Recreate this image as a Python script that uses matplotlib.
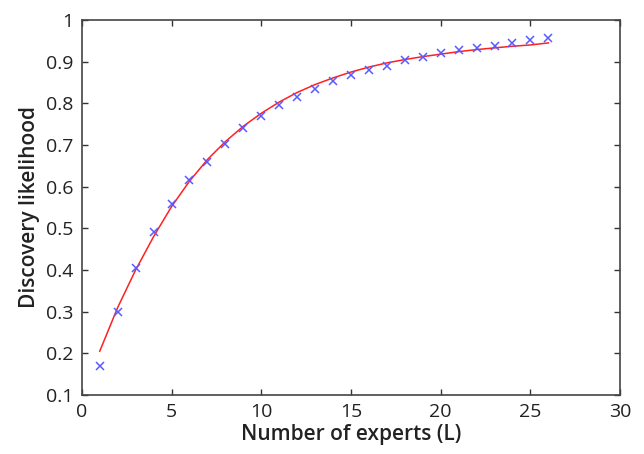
import matplotlib
matplotlib.use("Agg")
import matplotlib.pyplot as plt

# observed discovery likelihood per number of experts
experts = list(range(1, 27))
observed = [0.17, 0.30, 0.405, 0.49, 0.558, 0.615, 0.66, 0.703, 0.74, 0.77,
            0.795, 0.815, 0.835, 0.853, 0.868, 0.88, 0.89, 0.903, 0.912, 0.92,
            0.927, 0.933, 0.938, 0.944, 0.951, 0.957]

# fitted curve, read at the same x positions
fitted = [0.205, 0.31, 0.40, 0.48, 0.552, 0.613, 0.665, 0.708, 0.745, 0.776,
          0.803, 0.826, 0.845, 0.861, 0.875, 0.887, 0.897, 0.905, 0.912, 0.918,
          0.924, 0.929, 0.933, 0.937, 0.940, 0.945]

xticks = [0, 5, 10, 15, 20, 25, 30]
yticks = [0.1, 0.2, 0.3, 0.4, 0.5, 0.6, 0.7, 0.8, 0.9, 1]

plt.rcParams['font.family'] = ['Open Sans', 'DejaVu Sans']

fig = plt.figure(figsize=(6.44, 4.54), dpi=100)
ax = fig.add_axes([0.127, 0.130, 0.836, 0.826])

ax.plot(experts, fitted, color="#ff2020", linewidth=1.1)
ax.plot(experts, observed, linestyle="none", marker="x", color="#5a5aff",
        markersize=6, markeredgewidth=1.1)

ax.set_xlim(0, 30)
ax.set_ylim(0.1, 1)
ax.set_xticks(xticks)
ax.set_xticklabels([str(t) for t in xticks])
ax.set_yticks(yticks)
ax.set_yticklabels(["0.1", "0.2", "0.3", "0.4", "0.5", "0.6", "0.7", "0.8", "0.9", "1"])

ax.tick_params(direction="in", top=True, right=True, length=4, width=1,
               labelsize=14, colors="#333333", pad=6)
ax.tick_params(axis="x", labelcolor="#222222")
ax.tick_params(axis="y", labelcolor="#222222")
for s in ax.spines.values():
    s.set_color("#444444")
    s.set_linewidth(1.2)

ax.set_xlabel("Number of experts (L)", fontsize=15, fontweight="semibold",
              color="#222222", labelpad=2)
ax.set_ylabel("Discovery likelihood", fontsize=15, fontweight="semibold",
              color="#222222", labelpad=4)

fig.savefig("out.png", dpi=100)
